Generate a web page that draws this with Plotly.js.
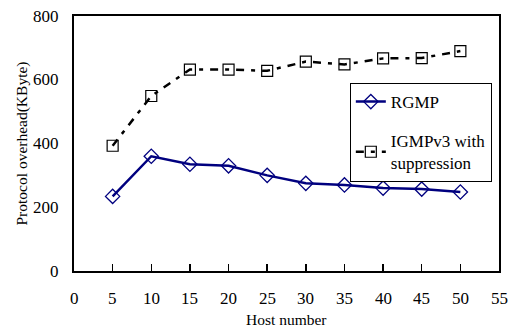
<!DOCTYPE html>
<html>
<head>
<meta charset="utf-8">
<script src="https://cdn.plot.ly/plotly-3.0.1.min.js"></script>
<style>
html,body{margin:0;padding:0;background:#fff;}
#chart{width:511px;height:332px;}
</style>
</head>
<body>
<div id="chart"></div>
<script>
const hosts = [5, 10, 15, 20, 25, 30, 35, 40, 45, 50];
const rgmp = [234, 360, 335, 330, 300, 275, 270, 260, 257, 248];
const igmpv3 = [393, 549, 632, 632, 628, 657, 648, 667, 668, 690];
const seriesNames = ['RGMP', 'IGMPv3 with<br>suppression'];
const xTicks = [0, 5, 10, 15, 20, 25, 30, 35, 40, 45, 50, 55];
const yTicks = [0, 200, 400, 600, 800];
const xTitle = 'Host number';
const yTitle = 'Protocol overhead(KByte)';

const font = 'Liberation Serif';
const traces = [
  {x: hosts, y: rgmp, name: seriesNames[0], mode: 'lines+markers', legendgroup: 'a',
   line: {color: '#00007f', width: 2.5},
   marker: {symbol: 'diamond-open', size: 11, color: '#00007f', line: {width: 1.3, color: '#00007f'}}},
  {x: hosts, y: igmpv3, name: seriesNames[1], mode: 'lines+markers', legendgroup: 'b',
   line: {color: '#000000', width: 2.5, dash: '8px,7px,4px,7px'},
   marker: {symbol: 'square-open', size: 11, color: '#000000', line: {width: 1.2, color: '#000000'}}}
];

const annotations = [];
xTicks.forEach(v => annotations.push({x: v, xref: 'x', y: 0, yref: 'paper', yanchor: 'top', yshift: -16,
  text: String(v), showarrow: false, font: {family: font, size: 17, color: '#000'}}));
yTicks.forEach(v => annotations.push({x: 0, xref: 'paper', y: v, yref: 'y', xanchor: 'right', xshift: -13,
  text: String(v), showarrow: false, font: {family: font, size: 17, color: '#000'}}));
annotations.push({x: 0.5, xref: 'paper', y: 0, yref: 'paper', yanchor: 'top', yshift: -38,
  text: xTitle, showarrow: false, font: {family: font, size: 15.5, color: '#000'}});
annotations.push({x: 0, xref: 'paper', y: 0.5, yref: 'paper', xanchor: 'right', xshift: -42, textangle: -90,
  text: yTitle, showarrow: false, font: {family: font, size: 15.5, color: '#000'}});

const layout = {
  width: 511, height: 332,
  margin: {l: 74, r: 12, t: 16, b: 61},
  paper_bgcolor: '#fff', plot_bgcolor: '#fff',
  font: {family: font, color: '#000', size: 17},
  showlegend: true,
  legend: {x: 0.649, y: 0.737, xanchor: 'left', yanchor: 'top', bgcolor: '#fff',
           bordercolor: '#000', borderwidth: 1, font: {family: font, size: 17, color: '#000'},
           traceorder: 'grouped', tracegroupgap: 14},
  annotations: annotations,
  xaxis: {range: [0, 55], tickvals: xTicks, showticklabels: false,
          showgrid: false, zeroline: false, showline: true, linecolor: '#000', linewidth: 2,
          mirror: true, ticks: 'inside', ticklen: 7, tickwidth: 1.5, tickcolor: '#000'},
  yaxis: {range: [0, 800], tickvals: yTicks, showticklabels: false,
          showgrid: false, zeroline: false, showline: true, linecolor: '#000', linewidth: 2,
          mirror: true, ticks: ''}
};
Plotly.newPlot('chart', traces, layout, {displayModeBar: false, staticPlot: true});
</script>
</body>
</html>
